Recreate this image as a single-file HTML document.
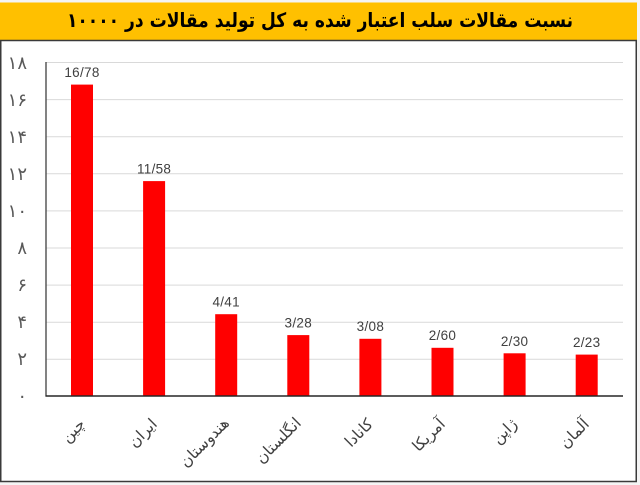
<!DOCTYPE html>
<html>
<head>
<meta charset="utf-8">
<style>
html,body{margin:0;padding:0;background:#f2f2f2;}
body{width:640px;height:485px;overflow:hidden;position:relative;}
svg{position:absolute;left:0;top:0;}
</style>
</head>
<body>
<svg width="640" height="485" viewBox="0 0 640 485" xmlns="http://www.w3.org/2000/svg">
  <rect x="0" y="0" width="640" height="485" fill="#f4f4f4"/>
  <!-- header -->
  <rect x="0" y="2.5" width="637" height="38" fill="#FFC000"/>
  <!-- chart box -->
  <rect x="0.75" y="40.5" width="635.5" height="441" fill="#ffffff" stroke="#3a3a3a" stroke-width="1.5"/>
  <text transform="translate(320,27) scale(0.9,1.05)" x="0" y="0" text-anchor="middle" font-family="'DejaVu Sans', sans-serif" font-weight="bold" font-size="19" fill="#000">نسبت مقالات سلب اعتبار شده به کل تولید مقالات در ۱۰۰۰۰</text>

  <!-- gridlines -->
  <g stroke="#d9d9d9" stroke-width="1">
    <line x1="46" x2="623" y1="62.5" y2="62.5"/>
    <line x1="46" x2="623" y1="99.6" y2="99.6"/>
    <line x1="46" x2="623" y1="136.7" y2="136.7"/>
    <line x1="46" x2="623" y1="173.8" y2="173.8"/>
    <line x1="46" x2="623" y1="210.9" y2="210.9"/>
    <line x1="46" x2="623" y1="248.0" y2="248.0"/>
    <line x1="46" x2="623" y1="285.1" y2="285.1"/>
    <line x1="46" x2="623" y1="322.2" y2="322.2"/>
    <line x1="46" x2="623" y1="359.3" y2="359.3"/>
  </g>

  <!-- y tick labels -->
  <g font-family="'DejaVu Sans', sans-serif" font-size="18" fill="#595959" text-anchor="end">
    <text x="27" y="69">۱۸</text>
    <text x="27" y="106">۱۶</text>
    <text x="27" y="143">۱۴</text>
    <text x="27" y="180">۱۲</text>
    <text x="27" y="217">۱۰</text>
    <text x="27" y="254">۸</text>
    <text x="27" y="291">۶</text>
    <text x="27" y="328">۴</text>
    <text x="27" y="365">۲</text>
    <text x="27" y="402">۰</text>
  </g>

  <!-- bars -->
  <g fill="#FF0000">
    <rect x="71" y="84.6" width="22" height="311.4"/>
    <rect x="143.1" y="181.1" width="22" height="214.9"/>
    <rect x="215.2" y="314.2" width="22" height="81.8"/>
    <rect x="287.3" y="335.1" width="22" height="60.9"/>
    <rect x="359.4" y="338.8" width="22" height="57.2"/>
    <rect x="431.5" y="347.8" width="22" height="48.2"/>
    <rect x="503.6" y="353.3" width="22" height="42.7"/>
    <rect x="575.7" y="354.6" width="22" height="41.4"/>
  </g>

  <!-- axes -->
  <line x1="46" x2="46" y1="62" y2="396.5" stroke="#404040" stroke-width="1.3"/>
  <line x1="45.5" x2="623" y1="396" y2="396" stroke="#262626" stroke-width="1.5"/>

  <!-- value labels -->
  <g font-family="'Liberation Sans', sans-serif" font-size="13.5" fill="#404040" text-anchor="middle" letter-spacing="0.3">
    <text x="82" y="77">16/78</text>
    <text x="154.1" y="173.5">11/58</text>
    <text x="226.2" y="306.5">4/41</text>
    <text x="298.3" y="327.5">3/28</text>
    <text x="370.4" y="331">3/08</text>
    <text x="442.5" y="340">2/60</text>
    <text x="514.6" y="346">2/30</text>
    <text x="586.7" y="347">2/23</text>
  </g>

  <!-- category labels -->
  <g font-family="'DejaVu Sans', sans-serif" font-size="15.5" fill="#404040" text-anchor="end">
    <text transform="translate(86,425) rotate(-45)">چین</text>
    <text transform="translate(158,425) rotate(-45)">ایران</text>
    <text transform="translate(230,424) rotate(-45)">هندوستان</text>
    <text transform="translate(302,424) rotate(-45)">انگلستان</text>
    <text transform="translate(374,425) rotate(-45)">کانادا</text>
    <text transform="translate(446,425) rotate(-45)">آمریکا</text>
    <text transform="translate(518,425) rotate(-45)">ژاپن</text>
    <text transform="translate(590,425) rotate(-45)">آلمان</text>
  </g>
</svg>
</body>
</html>
